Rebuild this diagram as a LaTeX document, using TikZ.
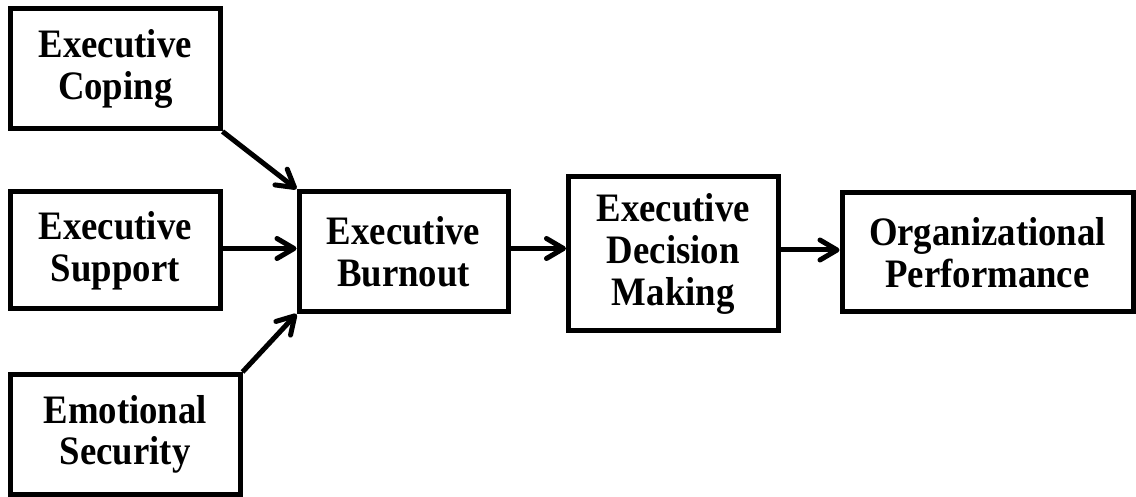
\documentclass[tikz,border=0pt]{standalone}
\usepackage{fontspec}
\setmainfont{Liberation Serif}[FakeStretch=0.91]
\usetikzlibrary{arrows.meta}
\begin{document}
\begin{tikzpicture}[x=0.5pt,y=-0.5pt,
  box/.style={draw=black, line width=2.5pt, fill=white, align=center, inner sep=0pt,
    font=\fontsize{20.2}{20.8}\selectfont\bfseries},
  conn/.style={line width=2.5pt, -{Straight Barb[length=8.5pt,width=10pt,round]}}]
\useasboundingbox (0,0) rectangle (1136,497);
\node[box, minimum width=104.75pt, minimum height=60.15pt] (cop) at (115.25,68.85) {Executive\\Coping};
\node[box, minimum width=104.75pt, minimum height=58.5pt] (sup) at (115.25,250.5) {Executive\\Support};
\node[box, minimum width=114.75pt, minimum height=60pt] (emo) at (125.25,434.5) {Emotional\\Security};
\node[box, minimum width=104.5pt, minimum height=60pt] (bur) at (403.5,251.5) {Executive\\Burnout};
\node[box, minimum width=104.75pt, minimum height=77pt] (dec) at (673.25,254) {Executive\\Decision\\Making};
\node[box, minimum width=145.5pt, minimum height=59.5pt] (org) at (987.5,252.5) {Organizational\\Performance};
\draw[conn] (cop.south east) -- (bur.north west);
\draw[conn] ([yshift=1pt]sup.east) -- ([yshift=1pt]sup.east -| bur.west);
\draw[conn] (emo.north east) -- (bur.south west);
\draw[conn] ([yshift=1.5pt]bur.east) -- ([yshift=1.5pt]bur.east -| dec.west);
\draw[conn] ([yshift=2pt]dec.east) -- ([yshift=2pt]dec.east -| org.west);
\end{tikzpicture}
\end{document}
